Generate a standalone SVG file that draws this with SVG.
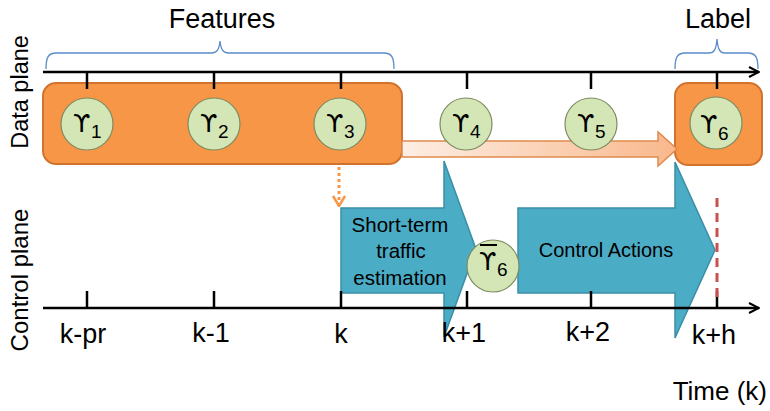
<svg xmlns="http://www.w3.org/2000/svg" width="770" height="411" viewBox="0 0 770 411">
<style>
.t{font-family:"Liberation Sans",Arial,sans-serif;fill:#000}
.ax{stroke:#000;stroke-width:2.5;fill:none}
.tk{stroke:#000;stroke-width:2.5}
.br{fill:none;stroke:#5b8bc9;stroke-width:1.3}
.node circle{fill:#d4e6b5;stroke:#7d8c62;stroke-width:1.2}
.sym{font-family:"DejaVu Sans",sans-serif;font-size:25px;fill:#000}
.sub{font-family:"Liberation Sans",Arial,sans-serif;font-size:19px;fill:#000}
.blue{fill:#4bacc6;stroke:#3a8ea6;stroke-width:1.5}
.orange{fill:#f79646;stroke:#d2722f;stroke-width:2}
</style>
<defs>
<linearGradient id="fade" x1="0" y1="0" x2="1" y2="0">
<stop offset="0" stop-color="#fdeee4"/>
<stop offset="1" stop-color="#f9b88c"/>
</linearGradient>
<marker id="ah" viewBox="0 0 12 12" refX="11" refY="6" markerWidth="12" markerHeight="12" markerUnits="userSpaceOnUse" orient="auto">
<path d="M1,1 L11,6 L1,11" fill="none" stroke="#000" stroke-width="2"/>
</marker>
<marker id="oh" viewBox="0 0 14 12" refX="7" refY="11" markerWidth="14" markerHeight="12" markerUnits="userSpaceOnUse" orient="0">
<path d="M1,1 L7,11 L13,1" fill="none" stroke="#f79646" stroke-width="2.5"/>
</marker>
</defs>

<!-- titles -->
<text class="t" x="222" y="28" font-size="27" text-anchor="middle">Features</text>
<text class="t" x="718" y="28" font-size="27" text-anchor="middle">Label</text>
<text class="t" transform="translate(28,92) rotate(-90)" font-size="23.5" text-anchor="middle">Data plane</text>
<text class="t" transform="translate(28,280) rotate(-90)" font-size="24" text-anchor="middle">Control plane</text>
<text class="t" x="767" y="400" font-size="26" text-anchor="end">Time (k)</text>

<!-- braces -->
<path class="br" d="M46,69 C46,58 48,53 56,53 L211,53 C217,53 219,50 220,41 C221,50 223,53 229,53 L384,53 C392,53 394,58 394,69"/>
<path class="br" d="M675,69 C675,58 677,53 685,53 L709,53 C714,53 716,50 717,39 C718,50 720,53 725,53 L748,53 C756,53 758,58 758,69"/>

<!-- data plane -->
<g id="feature-box"><rect class="orange" x="43" y="83" width="359" height="81" rx="13"/></g>
<g id="label-box"><rect class="orange" x="675" y="83" width="87" height="82" rx="13"/></g>
<g id="propagation-arrow"><path d="M402,141 L658,141 L658,132 L677,149 L658,166 L658,157 L402,157 Z" fill="url(#fade)" stroke="#e08a4e" stroke-width="1.5"/></g>

<!-- control plane arrows -->
<g id="estimation"><path class="blue" d="M341,208 L444,208 L444,161 L476,249 L444,337 L444,293 L341,293 Z"/>
<text class="t" font-size="20.5" text-anchor="middle"><tspan x="400" y="232">Short-term</tspan><tspan x="401" y="258">traffic</tspan><tspan x="400" y="285">estimation</tspan></text></g>
<g id="control-actions"><path class="blue" d="M518,208 L675,208 L675,162 L715,250 L675,338 L675,293 L518,293 Z"/>
<text class="t" x="606" y="257" font-size="20" text-anchor="middle">Control Actions</text></g>

<!-- connectors / axes -->
<g id="connectors">
<line class="ax" x1="43" y1="72" x2="759" y2="72" marker-end="url(#ah)"/>
<line class="ax" x1="43" y1="308" x2="759" y2="308" marker-end="url(#ah)"/>
<g class="tk">
<line x1="87" y1="72" x2="87" y2="89"/><line x1="214" y1="72" x2="214" y2="89"/><line x1="341" y1="72" x2="341" y2="89"/>
<line x1="467" y1="72" x2="467" y2="89"/><line x1="591" y1="72" x2="591" y2="89"/><line x1="717" y1="72" x2="717" y2="89"/>
<line x1="87" y1="291" x2="87" y2="308"/><line x1="214" y1="291" x2="214" y2="308"/><line x1="341" y1="291" x2="341" y2="308"/>
<line x1="467" y1="291" x2="467" y2="308"/><line x1="591" y1="291" x2="591" y2="308"/><line x1="717" y1="291" x2="717" y2="308"/>
</g>
<line x1="339" y1="167" x2="339" y2="206" stroke="#f79646" stroke-width="3" stroke-dasharray="3 3" marker-end="url(#oh)"/>
<line x1="717" y1="198" x2="717" y2="300" stroke="#c9504d" stroke-width="3" stroke-dasharray="9 6"/>
</g>

<!-- tick labels -->
<g class="t" font-size="27" text-anchor="middle">
<text x="83" y="343">k-pr</text><text x="211" y="342">k-1</text><text x="341" y="343">k</text>
<text x="464" y="342">k+1</text><text x="588" y="341">k+2</text><text x="714" y="344">k+h</text>
</g>

<!-- nodes -->
<g id="y1" class="node"><circle cx="87" cy="124" r="26"/><text class="sym" x="73" y="132">ϒ</text><text class="sub" x="91" y="138">1</text></g>
<g id="y2" class="node"><circle cx="214" cy="124" r="26"/><text class="sym" x="200" y="132">ϒ</text><text class="sub" x="218" y="138">2</text></g>
<g id="y3" class="node"><circle cx="340" cy="124" r="26"/><text class="sym" x="326" y="132">ϒ</text><text class="sub" x="344" y="138">3</text></g>
<g id="y4" class="node"><circle cx="466" cy="124" r="26"/><text class="sym" x="452" y="132">ϒ</text><text class="sub" x="470" y="138">4</text></g>
<g id="y5" class="node"><circle cx="591" cy="124" r="26"/><text class="sym" x="577" y="132">ϒ</text><text class="sub" x="595" y="138">5</text></g>
<g id="y6" class="node"><circle cx="716" cy="123" r="26"/><text class="sym" x="700" y="133">ϒ</text><text class="sub" x="718" y="140">6</text></g>
<g id="y6-estimate" class="node"><circle cx="493" cy="266" r="26"/><line x1="480" y1="245" x2="497" y2="245" stroke="#000" stroke-width="2"/><text class="sym" x="479" y="270">ϒ</text><text class="sub" x="497" y="276">6</text></g>
</svg>
